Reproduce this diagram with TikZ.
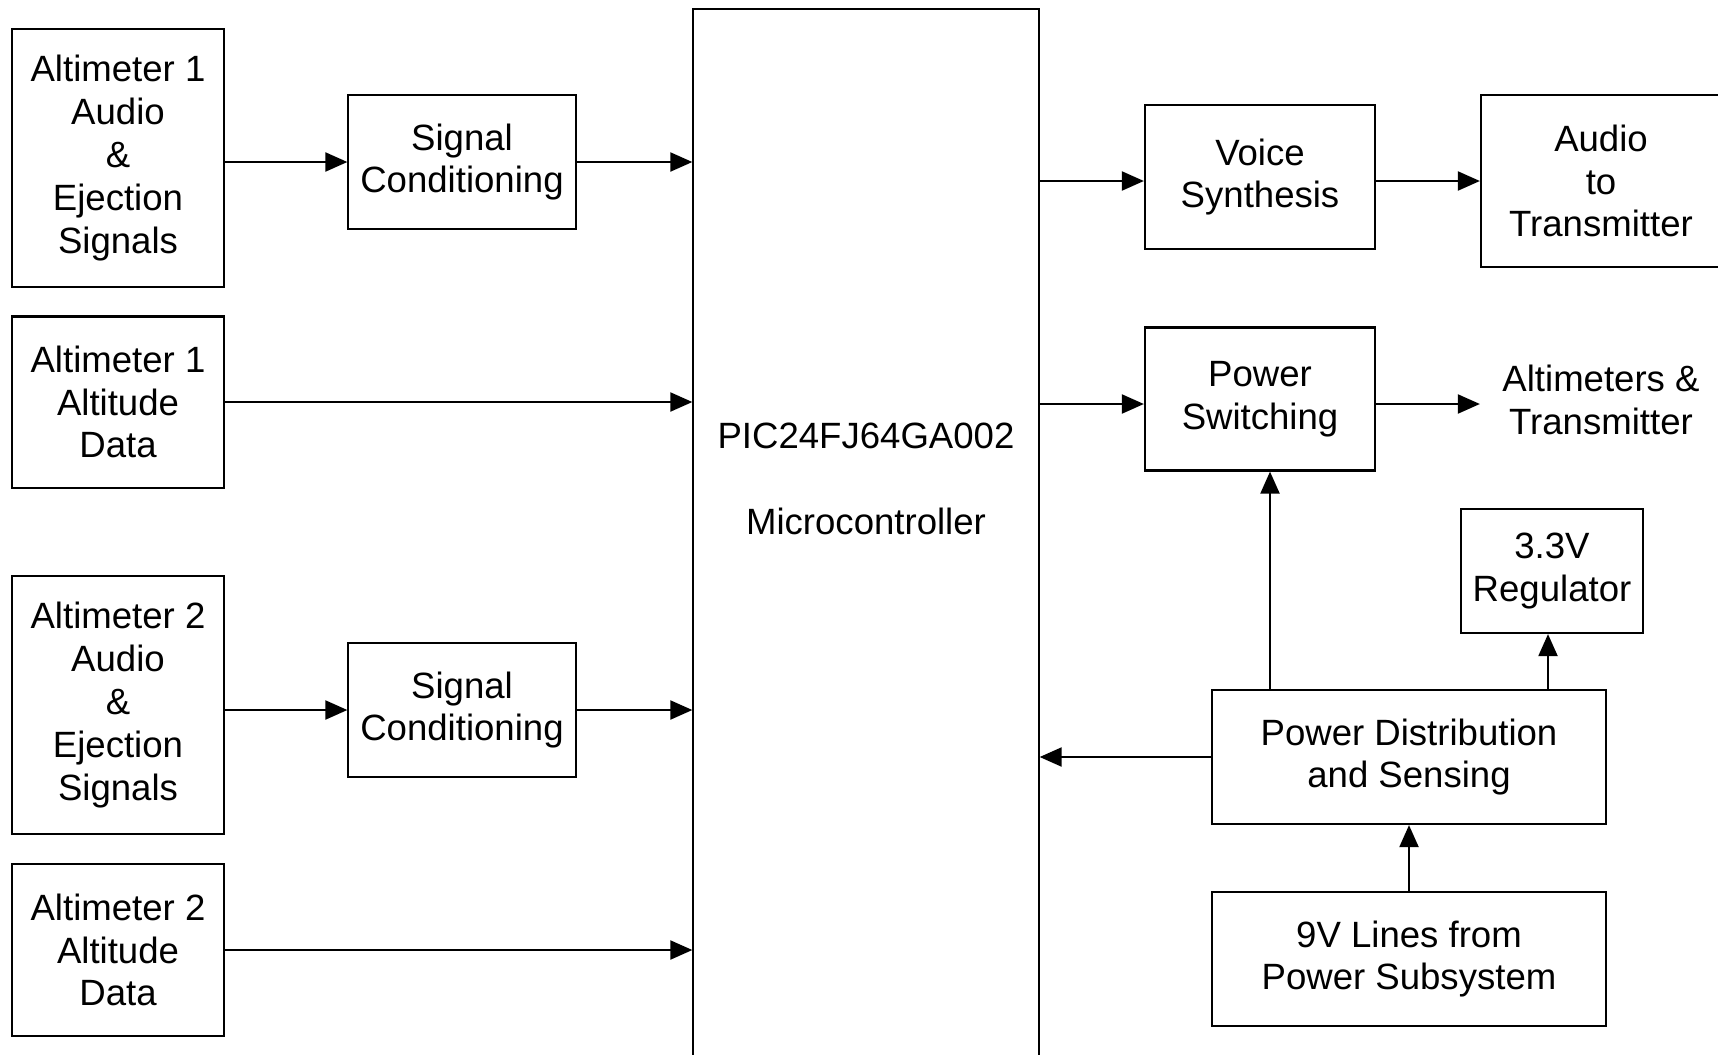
\documentclass[tikz,border=0pt]{standalone}
\usepackage{fontspec}
\setmainfont{Liberation Sans}
\usetikzlibrary{positioning,arrows.meta,calc}

\tikzset{
    blk/.style={draw, line width=0.6pt, align=center, inner sep=0pt},
    arr/.style={line width=0.6pt, -{Triangle[length=2.2mm,width=1.9mm]}},
    txt/.style={align=center, inner sep=0pt}
}

\begin{document}
\begin{tikzpicture}[x=0.01cm, y=-0.01cm, font=\fontsize{10.4}{12.2}\selectfont]
        \useasboundingbox (0,0) rectangle (1718,1054);
        \clip (0,0) rectangle (1718,1054);

        % Altimetros
        \node[blk, minimum width=2.12cm, minimum height=2.57cm] (alt1sig) at (118,158) {Altimeter 1\\Audio\\\&\\Ejection\\Signals};
        \node[blk, minimum width=2.12cm, minimum height=1.71cm] (alt1dat) at (118,402) {Altimeter 1\\Altitude\\Data};
        \node[blk, minimum width=2.12cm, minimum height=2.57cm] (alt2sig) at (118,705) {Altimeter 2\\Audio\\\&\\Ejection\\Signals};
        \node[blk, minimum width=2.12cm, minimum height=1.72cm] (alt2dat) at (118,950) {Altimeter 2\\Altitude\\Data};

        % Condicionamento
        \node[blk, minimum width=2.27cm, minimum height=1.34cm] (cond1) at (462,162) {Signal\\Conditioning};
        \node[blk, minimum width=2.27cm, minimum height=1.34cm] (cond2) at (462,710) {Signal\\Conditioning};

        % Microcontrolador
        \node[blk, minimum width=3.45cm, minimum height=10.92cm] (mcu) at (866,555) {};
        \node[txt] (mcutxt) at (866,479) {PIC24FJ64GA002\\[4.3mm]Microcontroller};

        % Saidas
        \node[blk, minimum width=2.3cm, minimum height=1.44cm] (voice) at (1260,177) {Voice\\Synthesis};
        \node[blk, minimum width=2.4cm, minimum height=1.72cm] (audtx) at (1601,181) {Audio\\to\\Transmitter};
        \node[blk, minimum width=2.3cm, minimum height=1.43cm] (pwrsw) at (1260,399) {Power\\Switching};
        \node[txt] (alttx) at (1601,400) {Altimeters \&\\Transmitter};

        % Alimentacao
        \node[blk, minimum width=1.82cm, minimum height=1.24cm] (reg) at (1552,571) {3.3V\\Regulator};
        \node[blk, minimum width=3.94cm, minimum height=1.34cm] (pwrdist) at (1409,757) {Power Distribution\\and Sensing};
        \node[blk, minimum width=3.94cm, minimum height=1.34cm] (nine) at (1409,959) {9V Lines from\\Power Subsystem};

        % Ligacoes
        \draw[arr] (alt1sig.east |- cond1) -- (cond1);
        \draw[arr] (cond1.east) -- (cond1.east -| mcu.west);
        \draw[arr] (alt1dat) -- (alt1dat -| mcu.west);
        \draw[arr] (alt2sig.east |- cond2) -- (cond2);
        \draw[arr] (cond2.east) -- (cond2.east -| mcu.west);
        \draw[arr] (alt2dat) -- (alt2dat -| mcu.west);
        \draw[arr] (mcu.east |- audtx) -- (voice.west |- audtx);
        \draw[arr] (voice.east |- audtx) -- (audtx);
        \draw[arr] (mcu.east |- 0,404) -- (pwrsw.west |- 0,404);
        \draw[arr] (pwrsw.east |- 0,404) -- (audtx.west |- 0,404);
        \draw[arr] (pwrdist.north -| 1270,0) -- (1270,0 |- pwrsw.south);
        \draw[arr] (pwrdist.north -| 1548,0) -- (1548,0 |- reg.south);
        \draw[arr] (pwrdist) -- (pwrdist -| mcu.east);
        \draw[arr] (nine) -- (pwrdist);

    \end{tikzpicture}
\end{document}
